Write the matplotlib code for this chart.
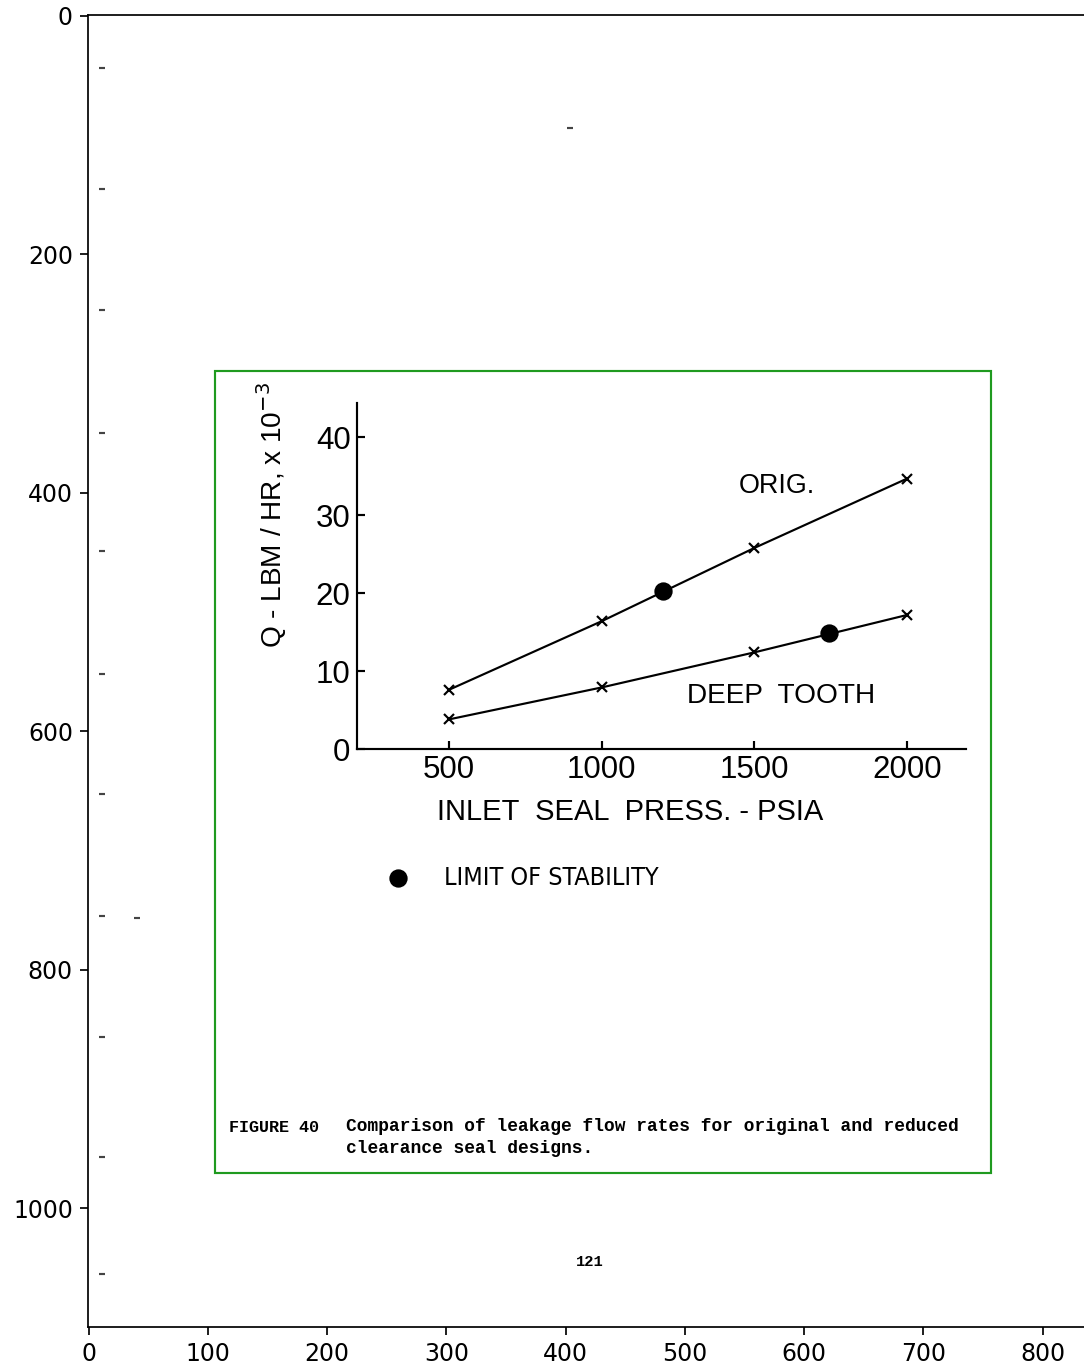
import matplotlib.pyplot as plt
from matplotlib.patches import Rectangle

# inner chart data
press = [500, 1000, 1500, 2000]
orig_q = [7.6, 16.4, 25.8, 34.7]
deep_q = [3.8, 7.9, 12.4, 17.2]
stab_press = [1200, 1745]
stab_q = [20.3, 14.9]
yticks_in = [0, 10, 20, 30, 40]
xticks_in = [500, 1000, 1500, 2000]

# page (image pixel) coordinates
frame_x, frame_y, frame_w, frame_h = 106, 298, 651, 672
speck_x = [11, 11, 11, 11, 11, 11, 11, 11, 11, 11, 11, 404, 41]
speck_y = [44, 145, 247, 350, 449, 552, 653, 755, 856, 957, 1055, 94, 757]

DPI = 155
fig = plt.figure(figsize=(1084 / DPI, 1367 / DPI), dpi=DPI)

# outer "image" axes, 1.1927 px per page unit, right edge runs off the figure
ax = fig.add_axes([88 / 1084, 40 / 1367, 850 * 1.1927 / 1084, 1312 / 1367])
ax.set_xlim(-0.5, 849.5)
ax.set_ylim(1099.5, -0.5)
ax.set_xticks(range(0, 801, 100))
ax.set_yticks(range(0, 1001, 200))
ax.tick_params(labelsize=11)
ax.spines['right'].set_visible(False)

ax.add_patch(Rectangle((frame_x, frame_y), frame_w, frame_h, fill=False,
                       edgecolor='#1f9a1f', lw=1.0))
ax.plot(speck_x, speck_y, ls='none', marker='_', ms=2.5, mew=1.0, color='#444444')

# legend item + caption + page number
ax.plot([259], [723], 'o', color='black', ms=7.5)
ax.text(298, 723, 'LIMIT OF STABILITY', family='DejaVu Sans', fontstretch='condensed',
        fontsize=11.6, va='center', ha='left')
cap = dict(family=['Liberation Mono', 'DejaVu Sans Mono'], fontweight='bold',
           fontsize=8.3, va='center', ha='left')
ax.text(118, 932, 'FIGURE 40', **dict(cap, fontsize=7.8))
ax.text(216, 931, 'Comparison of leakage flow rates for original and reduced', **cap)
ax.text(216, 950, 'clearance seal designs.', **cap)
ax.text(420, 1045, '121', **dict(cap, ha='center', fontsize=7.2))

# inner plot
ax2 = fig.add_axes([357 / 1084, 1 - 749 / 1367, (966 - 357) / 1084, (749 - 403) / 1367])
ax2.patch.set_alpha(0)
ax2.set_xlim(198.7, 2193)
ax2.set_ylim(0, 44.4)
for s in ['top', 'right']:
    ax2.spines[s].set_visible(False)
for s in ['left', 'bottom']:
    ax2.spines[s].set_linewidth(1.0)
ax2.set_xticks(xticks_in)
ax2.set_yticks(yticks_in)
inner_font = ['Liberation Sans', 'DejaVu Sans']
ax2.tick_params(direction='in', length=3.5, width=1.0, labelsize=14.5, pad=3)
for lab in ax2.get_xticklabels() + ax2.get_yticklabels():
    lab.set_family(inner_font)

ax2.plot(press, orig_q, color='black', lw=1.0, marker='x', ms=5, mew=1.0)
ax2.plot(press, deep_q, color='black', lw=1.0, marker='x', ms=5, mew=1.0)
ax2.plot(stab_press, stab_q, 'o', color='black', ms=7.5, ls='none')

ax2.text(1575, 33.7, 'ORIG.', family=inner_font, fontsize=12.5, ha='center', va='center')
ax2.text(1588, 6.8, 'DEEP  TOOTH', family=inner_font, fontsize=13, ha='center', va='center')
ax2.text(0.448, -0.182, 'INLET  SEAL  PRESS. - PSIA', transform=ax2.transAxes,
         family=inner_font, fontsize=13.5, ha='center', va='center')
ax2.text(-0.14, 0.676, 'Q - LBM / HR, x 10$^{-3}$', transform=ax2.transAxes,
         family=inner_font, fontsize=13, ha='center', va='center', rotation=90)

fig.savefig('out.png', dpi=DPI)
